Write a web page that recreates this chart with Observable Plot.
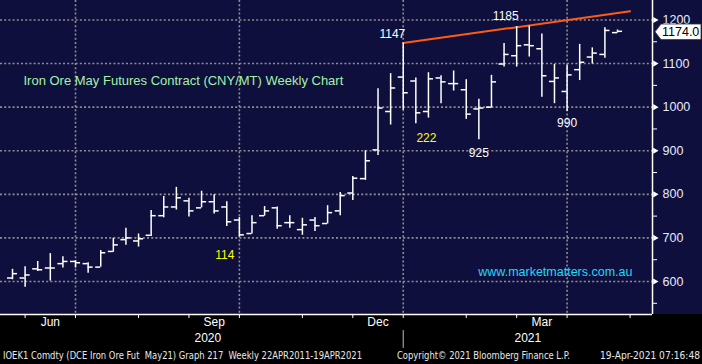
<!DOCTYPE html>
<html><head><meta charset="utf-8">
<script src="https://cdn.jsdelivr.net/npm/d3@7"></script>
<script src="https://cdn.jsdelivr.net/npm/@observablehq/plot@0.6"></script>
<style>
html,body{margin:0;padding:0;background:#000;}
#wrap{width:702px;height:364px;background:linear-gradient(to bottom,#0f0f3e 0,#0f0f3e 314px,#000 314px);position:relative;overflow:hidden;}
#chart svg{display:block;}
#footer{position:relative;height:17px;font-family:"Liberation Sans Narrow","DejaVu Sans Condensed","Liberation Sans",sans-serif;font-size:11px;color:#e8e8e8;line-height:17px;white-space:pre;}
#footer span{position:absolute;top:0;transform-origin:0 50%;}
</style></head><body>
<div id="wrap"><div id="chart"></div>
<div id="footer"><span id="f1"></span><span id="f2"></span><span id="f3"></span></div></div>
<script>
// Weekly bars (week-ending Friday)
const barDates = ["2020-05-22","2020-05-29","2020-06-05","2020-06-12","2020-06-19","2020-06-26","2020-07-03","2020-07-10","2020-07-17","2020-07-24","2020-07-31","2020-08-07","2020-08-14","2020-08-21","2020-08-28","2020-09-04","2020-09-11","2020-09-18","2020-09-25","2020-10-02","2020-10-09","2020-10-16","2020-10-23","2020-10-30","2020-11-06","2020-11-13","2020-11-20","2020-11-27","2020-12-04","2020-12-11","2020-12-18","2020-12-25","2021-01-01","2021-01-08","2021-01-15","2021-01-22","2021-01-29","2021-02-05","2021-02-12","2021-02-19","2021-02-26","2021-03-05","2021-03-12","2021-03-19","2021-03-26","2021-04-02","2021-04-09","2021-04-16","2021-04-23"];
const opens  = [608,608,629,631,641,646,641,633,669,696,693,706,751,771,785,769,783,771,741,710,751,769,735,719,741,733,762,803,836,902,990,1069,1060,990,1067,1054,1040,996,1000,1099,1118,1143,1134,1059,1036,1086,1115,1121,1171];
const highs  = [628,634,646,664,657,648,643,671,699,722,709,763,795,816,791,807,799,783,747,751,772,771,751,745,747,774,804,841,900,1042,1077,1147,1067,1079,1072,1083,1063,1018,1073,1146,1185,1186,1168,1098,1096,1144,1136,1182,1177];
const lows   = [604,587,623,601,631,631,619,633,667,683,679,703,746,764,748,769,755,726,702,709,750,720,722,706,715,732,751,786,832,889,959,993,962,975,1008,1037,972,925,998,1092,1092,1115,1023,1008,990,1061,1099,1112,1170];
const closes = [618,615,627,631,646,643,633,666,684,700,698,751,771,792,762,783,762,737,707,735,762,728,735,730,728,758,797,837,877,998,1044,1033,987,1065,1058,1054,984,998,1058,1121,1141,1141,1072,1067,1074,1103,1124,1176,1174];

// Axes
const xDomain = ["2020-05-15T08:00Z","2021-05-12T10:30Z"];
const yDomain = [524.3, 1244.7];
const yMajor = [600,700,800,900,1000,1100,1200];
const yMinor = [550,650,750,850,950,1050,1150];
const monthTicks = ["2020-05-29","2020-06-26","2020-07-31","2020-08-28","2020-09-25","2020-10-30","2020-11-27","2020-12-25","2021-01-29","2021-02-26","2021-03-26","2021-04-30"];
const quarterGrid = ["2020-06-26","2020-09-25","2020-12-25","2021-03-26"];
const monthLabels = ["Jun","Sep","Dec","Mar"];
const monthFrom = ["2020-05-29","2020-08-28","2020-11-27","2021-02-26"];
const monthTo   = ["2020-06-26","2020-09-25","2020-12-25","2021-03-26"];
const yearLabels = ["2020","2021"];
const yearFrom = ["2020-05-22","2020-12-25"];
const yearTo   = ["2020-12-25","2021-05-12T10:30Z"];
const yearBoundary = ["2020-12-25"];

// Trend line
const trendDates = ["2020-12-25","2021-04-30"];
const trendValues = [1147, 1220];

// Annotations
const noteText  = ["1147","1185","925","990","222","114"];
const noteDates = ["2020-12-25","2021-02-26","2021-02-05","2021-03-26","2021-01-08","2020-09-18"];
const noteValues= [1147,1185,925,990,928,660];
const noteColors= ["#ffffff","#ffffff","#ffffff","#ffffff","#ffff00","#ffff00"];
const noteAnchor= ["end","end","middle","middle","middle","middle"];
const noteDx    = [2,2,0,0,-2,-2];
const noteDy    = [-9,-10,13,12,0,0];

const titleText = "Iron Ore May Futures Contract (CNY/MT) Weekly Chart";
const titleValue = 1060;
const siteText = "www.marketmatters.com.au";
const siteValue = 621;
const lastPrice = "1174.0";
const footer = ["IOEK1 Comdty (DCE Iron Ore Fut  May21) Graph 217  Weekly 22APR2011-19APR2021","Copyright\u00A9 2021 Bloomberg Finance L.P.","19-Apr-2021 07:16:48"];
const footerLeft = [3, 397, 600];
const footerWidth = [359, 173, 100];

const D = s => new Date(s.length === 10 ? s + "T00:00Z" : s);
const bars = barDates.map((d,i)=>({date:D(d), open:opens[i], high:highs[i], low:lows[i], close:closes[i]}));
const trend = trendDates.map((d,i)=>({date:D(d), value:trendValues[i]}));
const notes = noteText.map((t,i)=>({text:t, date:D(noteDates[i]), value:noteValues[i], color:noteColors[i], anchor:noteAnchor[i], dx:noteDx[i], dy:noteDy[i]}));
const mid = (a,b) => new Date((+D(a) + +D(b))/2);
const months = monthLabels.map((l,i)=>({label:l, x:mid(monthFrom[i], monthTo[i])}));
const years = yearLabels.map((l,i)=>({label:l, x:mid(yearFrom[i], yearTo[i])}));
const tickHalf = 2.8*864e5;
const xEnd = D(xDomain[1]);
const grid = {stroke:"#8e8e8e", strokeWidth:1.6, strokeDasharray:"2,2.2"};
const font = "'Liberation Sans', Arial, sans-serif";

const chart = Plot.plot({
  width:702, height:347, marginLeft:0, marginRight:50, marginTop:0, marginBottom:33,
  style:{background:"transparent", fontFamily:font, color:"white", overflow:"visible"},
  x:{type:"utc", domain:[D(xDomain[0]), xEnd]},
  y:{domain:yDomain},
  marks:[
    Plot.ruleY(yMajor, {y:d=>d, ...grid}),
    Plot.ruleX(quarterGrid.map(D), {x:d=>d, ...grid}),
    Plot.line(trend, {x:"date", y:"value", stroke:"#ff5b14", strokeWidth:2}),
    Plot.ruleX(bars, {x:"date", y1:"low", y2:"high", stroke:"white", strokeWidth:1.5}),
    Plot.ruleY(bars, {y:"open", x1:d=>new Date(+d.date - tickHalf), x2:"date", stroke:"white", strokeWidth:1.5}),
    Plot.ruleY(bars, {y:"close", x1:"date", x2:d=>new Date(+d.date + tickHalf), stroke:"white", strokeWidth:1.5}),
    Plot.ruleX([xEnd], {x:d=>d, stroke:"white", strokeWidth:1.5}),
    Plot.ruleY([yDomain[0]], {y:d=>d, stroke:"white", strokeWidth:1.5}),
    Plot.axisY(yMajor, {anchor:"right", tickSize:0, tickPadding:10, fontSize:12.5, fill:"#e6ecff", textAnchor:"start", tickFormat:d=>String(d)}),
    Plot.axisY(yMinor, {anchor:"right", tickSize:4, text:null, stroke:"white"}),
    Plot.dot(yMajor, {y:d=>d, frameAnchor:"right", symbol:"triangle", r:2.3, rotate:90, dx:2.5, fill:"white", stroke:null}),
    Plot.axisX(monthTicks.map(D), {anchor:"bottom", tickSize:4, text:null, stroke:"white"}),
    Plot.text(months, {x:"x", text:"label", frameAnchor:"bottom", dy:11, fill:"white", fontSize:12}),
    Plot.text(years, {x:"x", text:"label", frameAnchor:"bottom", dy:27, fill:"white", fontSize:12}),
    Plot.vector(yearBoundary.map(D), {x:d=>d, frameAnchor:"bottom", length:17, rotate:180, anchor:"start", dy:16, stroke:"#bdbdbd", strokeWidth:1, shape:{draw(ctx,l){ctx.moveTo(0,0);ctx.lineTo(0,-l);}}}),
    ...notes.map(n => Plot.text([n], {x:"date", y:"value", text:"text", fill:n.color, textAnchor:n.anchor, dx:n.dx, dy:n.dy, fontSize:12})),
    Plot.text([titleText], {text:d=>d, y:()=>titleValue, frameAnchor:"left", dx:23, textAnchor:"start", fill:"#a4f2a4", fontSize:13}),
    Plot.text([siteText], {text:d=>d, y:()=>siteValue, frameAnchor:"right", dx:-20, textAnchor:"end", fill:"#22d8f5", fontSize:12.5})
  ]
});
document.getElementById("chart").append(chart);

// Price tag at last close
const yS = chart.scale("y");
const yy = yS.apply(closes[closes.length-1]) + 1;
const xr = 702 - 50;
const g = d3.select(chart).append("g");
g.append("path").attr("d", `M${xr+3},${yy} L${xr+9},${yy-7.8} L${xr+49},${yy-7.8} L${xr+49},${yy+7.8} L${xr+9},${yy+7.8} Z`).attr("fill","white").attr("stroke","#333").attr("stroke-width",0.8);
g.append("text").attr("x", xr+10).attr("y", yy).attr("dy","0.36em").attr("font-family",font).attr("font-size",12.5).attr("fill","#000").attr("text-anchor","start").text(lastPrice);

["f1","f2","f3"].forEach((id,i) => {
  const el = document.getElementById(id);
  el.textContent = footer[i];
  el.style.left = footerLeft[i] + "px";
  const w = el.getBoundingClientRect().width;
  el.style.transform = `scaleX(${footerWidth[i]/w})`;
});
</script></body></html>
